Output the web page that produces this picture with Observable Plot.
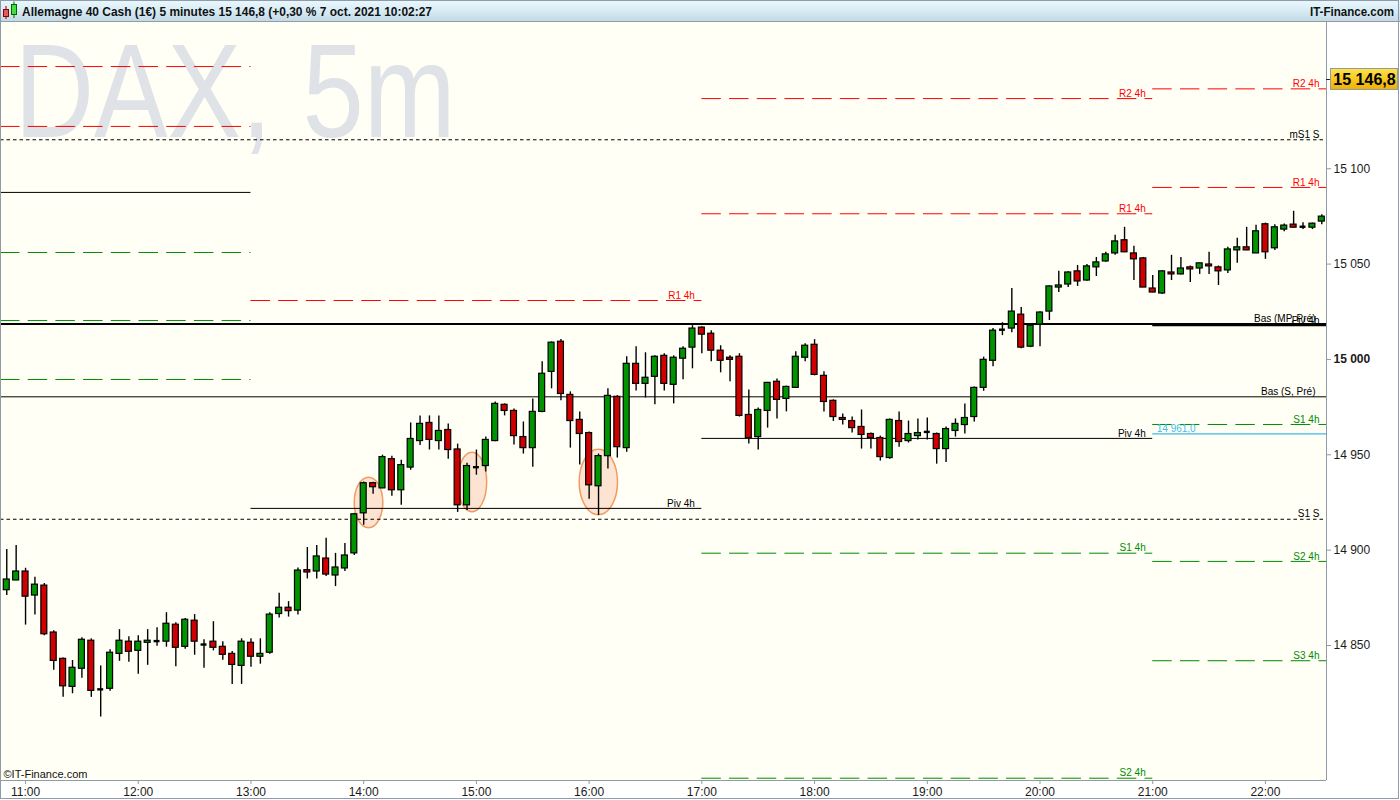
<!DOCTYPE html>
<html lang="fr">
<head>
<meta charset="utf-8">
<title>DAX, 5m</title>
<script src="https://cdn.jsdelivr.net/npm/d3@7"></script>
<script src="https://cdn.jsdelivr.net/npm/@observablehq/plot@0.6"></script>
<style>
html,body{margin:0;padding:0;background:#fff;}
#wrap{position:relative;width:1400px;height:800px;overflow:hidden;}
#header{position:absolute;left:0;top:0;width:1400px;height:21px;background:linear-gradient(to bottom,#eaf8fd 0%,#d8ecf5 50%,#c4d9e5 100%);border-bottom:1px solid #8f9ba6;}
#chart{position:absolute;left:0;top:22px;width:1400px;height:778px;}
#outline{position:absolute;left:0;top:0;width:1397px;height:797px;border:1px solid #8f9ba6;pointer-events:none;}
</style>
</head>
<body>
<div id="wrap">
  <div id="header">
    <svg width="1400" height="21" style="display:block">
      <line x1="6" y1="6" x2="6" y2="19" stroke="#700"/>
      <rect x="3.5" y="9.5" width="5" height="7" fill="#e35b5b" stroke="#8a0000"/>
      <line x1="14" y1="1.5" x2="14" y2="18" stroke="#060"/>
      <rect x="11.5" y="4.5" width="5" height="10" fill="#44dd44" stroke="#006600"/>
      <text x="22" y="15.5" font-family="Liberation Sans Narrow, Arial Narrow, Liberation Sans, Arial, sans-serif" font-size="13" font-weight="bold" fill="#111" textLength="410" lengthAdjust="spacingAndGlyphs">Allemagne 40 Cash (1€) 5 minutes 15 146,8 (+0,30 % 7 oct. 2021 10:02:27</text>
      <text x="1310" y="15.5" font-family="Liberation Sans Narrow, Arial Narrow, Liberation Sans, Arial, sans-serif" font-size="13" font-weight="bold" fill="#111" textLength="84" lengthAdjust="spacingAndGlyphs">IT-Finance.com</text>
    </svg>
  </div>
  <div id="chart"></div>
  <div id="outline"></div>
</div>
<script>
// ---------------- DATA ----------------
const candleStart = "10:50";
const candleStepMinutes = 5;

const opens = [14879,14884.1,14888.8,14876.2,14881.4,14856.8,14843,14828.3,14837.8,14852.5,
14827,14827.3,14845.6,14852,14847.2,14851.4,14852.3,14852,14860.9,14849.3,
14863,14850.5,14852,14849.3,14845.6,14839.3,14851.4,14844.1,14846.2,14866.5,
14869.8,14868.3,14889.5,14888.8,14895.6,14886.7,14890.4,14898.3,14919.3,14935.1,
14932.4,14947.7,14931.4,14943.3,14957.2,14966.7,14957.2,14963,14952.8,14923.5,
14943.5,14944.1,14957.2,14976.2,14973,14959.3,14953.5,14972.5,14993.5,15009.3,
14981.4,14968.3,14961.4,14933.5,14949.3,14980.4,14953.5,14997.7,14987.2,14990.9,
15001.9,14986.7,15000.4,15006.2,15016.7,15013.5,15004.6,15000.9,15001.4,14970.9,
14959.3,14973,14988.3,14979.3,14985.1,15000.9,15007.7,14991.4,14978.3,14969.3,
14967.7,14964.6,14960.9,14958.8,14948.3,14967.7,14957.2,14959.8,14962,14960.9,
14953,14962.5,14965.6,14969.8,14985.1,14999.3,15015.6,15016.2,15023.5,15006.7,
15018.3,15025.1,15037.7,15039.3,15046.2,15041.4,15048.3,15051.4,15055.6,15062.5,
15055.6,15053,15037.2,15034.6,15045.6,15044.6,15048.3,15047.7,15049.8,15048.3,
15046.7,15057.2,15058.8,15055.6,15070.9,15058.3,15068.1,15070.7,15069.6,15069.1,
15072.3];
const highs = [14900.4,14902.5,14890.5,14885.8,14882.5,14857.7,14843.5,14842.1,14854,14853.5,
14839.3,14847.8,14858.3,14854.6,14855.1,14858.3,14859.3,14867.2,14861.9,14864.1,
14866.2,14853,14862.5,14852,14846.8,14853.5,14853.5,14853.5,14867.2,14877.4,
14873,14890.7,14901.4,14902.5,14906.2,14898.3,14903.5,14919.3,14935.8,14935.6,
14949.8,14949.3,14947.2,14966.7,14970.4,14970.4,14970.4,14966.2,14955.6,14945.6,
14952.5,14959.3,14977.7,14976.7,14974,14967.2,14979.3,14998.8,15009.2,15010.4,
14983,14972.5,14962,14950.4,14984.6,14981,15001.4,15006.7,15003.5,15001.9,
15003,15001.9,15006.7,15017.7,15017.2,15015.1,15007.2,15001.9,15003,14984,
14974.6,14988,14989.8,14986,15004,15008.3,15010.4,14993.5,14978.8,14971.4,
14969.8,14973.5,14961.4,14959.8,14968.8,14972.5,14967.7,14968.8,14969.3,14961.4,
14964.6,14968.8,14976.7,14985.6,15001.2,15016.2,15019.3,15037.2,15027.2,15018,
15025,15038.5,15046.2,15046,15049.3,15049.8,15053.5,15056.2,15065.1,15069.3,
15059.3,15053.5,15044,15046.5,15054.6,15053.5,15049,15050.5,15056.2,15049,
15058.8,15063.5,15069.3,15070.4,15071.5,15070.6,15071,15077.7,15071.7,15071.5,
15075.9];
const lows = [14876.2,14884.1,14860.7,14866,14855.1,14837,14822.8,14824.7,14832.8,14822.8,
14812.5,14826,14841.7,14841.2,14834.9,14839.6,14849.6,14849.1,14838.8,14848,
14844.9,14838,14847.2,14842.3,14829.6,14829.6,14838.6,14840.2,14845.4,14864.4,
14864.9,14866,14884.9,14884.9,14886.2,14880.9,14888.8,14897.2,14913,14929.3,
14932.2,14928.2,14923.5,14941.9,14954.9,14952.5,14952.5,14947.7,14919.8,14920.8,
14939.3,14941,14956.8,14970.4,14955.1,14950.4,14943.5,14972,14984.6,14978.3,
14953.5,14944.6,14926.7,14918.2,14942.5,14948.3,14951.4,14983.5,14979.8,14976.2,
14983.5,14976.7,14989.3,14995.1,15003,14998.8,14993,14988.3,14969.8,14955.6,
14952.5,14964,14968.8,14972.5,14984.8,14998.8,14991.4,14972.5,14967.5,14965.6,
14961.4,14953,14953,14946.7,14947.7,14954,14956.2,14957.7,14957.7,14945.1,
14945.9,14959.3,14960.9,14967.2,14983.3,14996.2,15012.5,15014,15005.6,15006.2,
15006.7,15020.4,15035.1,15037.7,15038.3,15041,15043.5,15051,15054.6,15056,
15041.4,15037.7,15035,15034,15041.4,15044.3,15040.4,15044.6,15044.6,15038.8,
15045.1,15050.4,15057,15055.5,15052.5,15057.2,15067,15069,15068.1,15068.1,
15070.7];
const closes = [14884.6,14888.8,14875.6,14881.9,14855.9,14841.9,14828.6,14838.3,14853,14826.2,
14827,14846.2,14852.5,14846.7,14852,14852.5,14852.3,14861.4,14848.8,14863.5,
14852,14850.5,14848.8,14845.1,14839.8,14852,14844.1,14845.6,14866.2,14869.8,
14868,14889.3,14888.3,14896.7,14887.2,14890.9,14897.2,14918.8,14935.1,14933,
14948.8,14931.4,14944.6,14958.3,14966.2,14957.8,14962.5,14952.5,14923.5,14944.1,
14943.5,14957.8,14976.7,14973,14959.8,14953.5,14972.5,14992.5,15008.8,14981.9,
14967.7,14960.9,14934,14949.3,14980.9,14954,14997.7,14987.2,14990.4,15001.4,
14987.2,15000.9,15005.6,15016.2,15013,15004.6,14999.3,14999.8,14970.4,14958.8,
14973.5,14987.7,14978.8,14985.6,15001.4,15007.2,14991.9,14977.7,14969.8,14968.3,
14964,14960.4,14958.8,14948.8,14968.3,14956.7,14960.9,14961.4,14962,14953,
14963.5,14966.2,14969.3,14985.1,14999.8,15015.1,15015.6,15025.1,15006.2,15017.7,
15024.6,15038.3,15038.8,15045.6,15040.9,15048.8,15050.9,15055.1,15061.9,15056.2,
15052.5,15037.7,15035.1,15046.2,15044.6,15047.7,15047.2,15050.4,15048.8,15046.2,
15057.7,15058.8,15057.2,15067.2,15056.2,15069.3,15070.2,15069.1,15069.6,15071.2,
15074.9];

const xTickHours = ["11:00","12:00","13:00","14:00","15:00","16:00","17:00","18:00","19:00","20:00","21:00","22:00"];
const yTickValues = [14850, 14900, 14950, 15000, 15050, 15100];

// 4-hour pivot periods
const periodStart = ["09:00", "13:00", "17:00", "21:00"];
const periodEnd   = ["13:00", "17:00", "21:00", "25:00"];
const levelPeriod = [0, 0, 0, 0, 0, 0,   1, 1,   2, 2, 2, 2, 2,   3, 3, 3, 3, 3, 3];
const levelName   = ["R2 4h","R1 4h","Piv 4h","S1 4h","S2 4h","S3 4h",
                     "R1 4h","Piv 4h",
                     "R2 4h","R1 4h","Piv 4h","S1 4h","S2 4h",
                     "R2 4h","R1 4h","Piv 4h","S1 4h","S2 4h","S3 4h"];
const levelValue  = [15153.6,15122.2,15087.6,15056.1,15020.4,14989.5,
                     15030.9,14921.9,
                     15136.8,15076.4,14958.6,14898.4,14780.4,
                     15141.9,15090.2,15017.9,14965.9,14894.1,14842.0];

// session levels (full width)
const sessionName  = ["mS1 S", "Bas (MP, Pré)", "Bas (S, Pré)", "S1 S"];
const sessionValue = [15115.2, 15018.6, 14980.4, 14916.2];

const lastTradeValue = 14961.0;
const lastTradeLabel = "14 961,0";
const lastTradeFrom  = "21:00";
const lastQuote = 15146.8;
const lastQuoteLabel = "15 146,8";

// highlighted zones (orange ellipses): centre time / price, half extents
const highlightTime        = ["14:02:50", "14:57:55", "16:05:10"];
const highlightPrice       = [14924.7, 14935.5, 14935.5];
const highlightHalfMinutes = [7.6, 7.8, 10.2];
const highlightHalfPoints  = [13.2, 15.6, 17.2];

const watermark = "DAX, 5m";
const copyright = "©IT-Finance.com";

// ---------------- BUILD ----------------
const day = s => { const [h, m, sec = 0] = s.split(":").map(Number); return new Date(Date.UTC(2021, 9, 7, h, m, sec)); };
const xDomain = [day("10:46:40"), day("22:32:30")];
const yDomain = [14779.2, 15176.7];
const clampT = t => new Date(Math.min(Math.max(+t, +xDomain[0]), +xDomain[1]));
const frNum = v => d3.format(",.0f")(v).replace(/,/g, " ");

const candles = opens.map((o, i) => ({
  t: new Date(+day(candleStart) + i * candleStepMinutes * 60000),
  o, h: highs[i], l: lows[i], c: closes[i]
}));
const half = 95 * 1000;
const isDoji = d => Math.abs(d.c - d.o) < 0.3;
const up = candles.filter(d => !isDoji(d) && d.c > d.o);
const down = candles.filter(d => !isDoji(d) && d.c < d.o);
const dojis = candles.filter(isDoji);

const levels = levelValue.map((v, i) => ({
  v, name: levelName[i], p: levelPeriod[i],
  x1: clampT(day(periodStart[levelPeriod[i]])),
  x2: clampT(day(periodEnd[levelPeriod[i]]))
}));
const kindOf = d => d.name[0] === "R" ? "R" : d.name[0] === "S" ? "S" : "P";
const resL = levels.filter(d => kindOf(d) === "R");
const supL = levels.filter(d => kindOf(d) === "S");
const pivL = levels.filter(d => kindOf(d) === "P");
const labelled = levels.filter(d => d.p > 0);

const sessions = sessionValue.map((v, i) => ({v, name: sessionName[i]}));
const highlights = highlightTime.map((t, i) => ({
  t: day(t), p: highlightPrice[i], dm: highlightHalfMinutes[i], dp: highlightHalfPoints[i]
}));

const RED = "#ff0000", GREEN = "#008a00", UPC = "#009500", DNC = "#d00000";
const LONG = "19.5,8.2", SHORT = "3.5,3";
const NS = "http://www.w3.org/2000/svg";

function ellipsesMark(index, scales) {
  const g = document.createElementNS(NS, "g");
  for (const h of highlights) {
    const cx = scales.x(h.t), cy = scales.y(h.p);
    const rx = Math.abs(scales.x(new Date(+h.t + h.dm * 60000)) - cx);
    const ry = Math.abs(scales.y(h.p + h.dp) - cy);
    const e = document.createElementNS(NS, "ellipse");
    e.setAttribute("cx", cx); e.setAttribute("cy", cy);
    e.setAttribute("rx", rx); e.setAttribute("ry", ry);
    e.setAttribute("fill", "#fde4d2");
    e.setAttribute("stroke", "#f39a62");
    e.setAttribute("stroke-width", 1.5);
    g.appendChild(e);
  }
  return g;
}

function priceTagMark(index, scales, values, dim) {
  const g = document.createElementNS(NS, "g");
  const y = scales.y(lastQuote);
  const x0 = dim.width - dim.marginRight;
  const defs = document.createElementNS(NS, "defs");
  defs.innerHTML = '<linearGradient id="gold" x1="0" y1="0" x2="0" y2="1"><stop offset="0" stop-color="#ffe24a"/><stop offset="1" stop-color="#efb000"/></linearGradient>';
  g.appendChild(defs);
  const ln = document.createElementNS(NS, "line");
  ln.setAttribute("x1", x0); ln.setAttribute("x2", x0 + 5);
  ln.setAttribute("y1", Math.round(y) + 0.5); ln.setAttribute("y2", Math.round(y) + 0.5);
  ln.setAttribute("stroke", "#222");
  g.appendChild(ln);
  const r = document.createElementNS(NS, "rect");
  r.setAttribute("x", x0 + 4.5); r.setAttribute("y", Math.round(y) - 10.5);
  r.setAttribute("width", 67); r.setAttribute("height", 21);
  r.setAttribute("fill", "url(#gold)"); r.setAttribute("stroke", "#8f9ba6");
  g.appendChild(r);
  return g;
}

const chart = Plot.plot({
  width: 1400,
  height: 778,
  marginTop: 0,
  marginLeft: 0,
  marginRight: 74,
  marginBottom: 20,
  style: {background: "#ffffff", fontFamily: "Liberation Sans, Arial, sans-serif", fontSize: "12px", color: "#1a1a1a", overflow: "visible"},
  x: {type: "utc", domain: xDomain, ticks: xTickHours.map(day), tickFormat: d3.utcFormat("%H:%M"), tickSize: 4, tickPadding: 3, label: null},
  y: {domain: yDomain, axis: "right", ticks: yTickValues, tickFormat: frNum, tickSize: 4, tickPadding: 3, label: null},
  marks: [
    Plot.frame({fill: "#fffff6", stroke: "none"}),
    Plot.text([watermark], {text: d => d, frameAnchor: "top-left", lineAnchor: "middle", dx: 14, dy: 72.4, fontSize: 133, fill: "#dfe2e6", textAnchor: "start", fontFamily: "Liberation Sans Narrow, Arial Narrow, Liberation Sans, Arial, sans-serif"}),
    ellipsesMark,
    // 4h pivot levels
    Plot.ruleY(resL, {y: "v", x1: "x1", x2: "x2", stroke: RED, strokeDasharray: LONG}),
    Plot.ruleY(supL, {y: "v", x1: "x1", x2: "x2", stroke: GREEN, strokeDasharray: LONG}),
    Plot.ruleY(pivL, {y: "v", x1: "x1", x2: "x2", stroke: "#000", strokeWidth: d => d.p === 3 ? 2 : 1}),
    // session levels
    Plot.ruleY(sessions.filter(d => d.name.startsWith("Bas (MP")), {y: "v", stroke: "#000", strokeWidth: 2}),
    Plot.ruleY(sessions.filter(d => d.name.startsWith("Bas (S")), {y: "v", stroke: "#000", strokeWidth: 1}),
    Plot.ruleY(sessions.filter(d => !d.name.startsWith("Bas")), {y: "v", stroke: "#000", strokeDasharray: SHORT}),
    // last trade line
    Plot.ruleY([lastTradeValue], {y: d => d, x1: () => day(lastTradeFrom), x2: () => xDomain[1], stroke: "#3cb8ee", strokeWidth: 1.3}),
    // labels
    Plot.text(labelled.filter(d => kindOf(d) === "R"), {x: "x2", y: "v", text: "name", textAnchor: "end", dx: -7, dy: -5, fontSize: 10, fill: RED}),
    Plot.text(labelled.filter(d => kindOf(d) === "S"), {x: "x2", y: "v", text: "name", textAnchor: "end", dx: -7, dy: -5, fontSize: 10, fill: GREEN}),
    Plot.text(labelled.filter(d => kindOf(d) === "P"), {x: "x2", y: "v", text: "name", textAnchor: "end", dx: -7, dy: -5, fontSize: 10, fill: "#000"}),
    Plot.text(sessions.filter(d => !d.name.startsWith("Bas")), {x: () => xDomain[1], y: "v", text: "name", textAnchor: "end", dx: -7, dy: -5, fontSize: 10, fill: "#000"}),
    Plot.text(sessions.filter(d => d.name.startsWith("Bas")), {x: () => xDomain[1], y: "v", text: "name", textAnchor: "end", dx: -11, dy: -5, fontSize: 10, fill: "#000"}),
    Plot.text([lastTradeLabel], {text: d => d, x: () => day(lastTradeFrom), y: () => lastTradeValue, dx: 4, dy: -5, textAnchor: "start", fontSize: 10, fill: "#44bbee"}),
    // candles
    Plot.ruleX(candles, {x: "t", y1: "l", y2: "h", stroke: "#000", strokeWidth: 1.4}),
    Plot.rect(up, {x1: d => new Date(+d.t - half), x2: d => new Date(+d.t + half), y1: "o", y2: "c", fill: UPC, stroke: "#000", strokeWidth: 1.2}),
    Plot.rect(down, {x1: d => new Date(+d.t - half), x2: d => new Date(+d.t + half), y1: "o", y2: "c", fill: DNC, stroke: "#000", strokeWidth: 1.2}),
    Plot.ruleY(dojis, {y: "o", x1: d => new Date(+d.t - half), x2: d => new Date(+d.t + half), stroke: "#000", strokeWidth: 2.4}),
    // copyright
    Plot.text([copyright], {text: d => d, frameAnchor: "bottom-left", lineAnchor: "middle", dx: 3, dy: -6.5, textAnchor: "start", fontSize: 11, fill: "#111"}),
    // axis lines
    Plot.ruleX([xDomain[1]], {x: d => d, stroke: "#8f9ba6"}),
    Plot.ruleY([yDomain[0]], {y: d => d, stroke: "#8f9ba6"}),
    // current quote tag
    priceTagMark,
    Plot.text([lastQuote], {x: () => xDomain[1], y: d => d, text: () => lastQuoteLabel, dx: 38, textAnchor: "middle", fontSize: 16, fontWeight: "bold", fill: "#000"})
  ]
});

document.getElementById("chart").appendChild(chart);

// post tweaks: bold 15 000, grey tick marks, watermark width
const sel = d3.select(chart);
sel.selectAll("text").filter(function() { return this.textContent.trim() === "15 000"; }).attr("font-weight", "bold");
sel.selectAll(".tick line").attr("stroke", "#8f9ba6");
sel.selectAll('[aria-label$="tick"]').attr("stroke", "#8f9ba6");
sel.selectAll("text").filter(function() { return this.textContent === watermark; })
  .attr("textLength", 441).attr("lengthAdjust", "spacingAndGlyphs");
</script>
</body>
</html>
